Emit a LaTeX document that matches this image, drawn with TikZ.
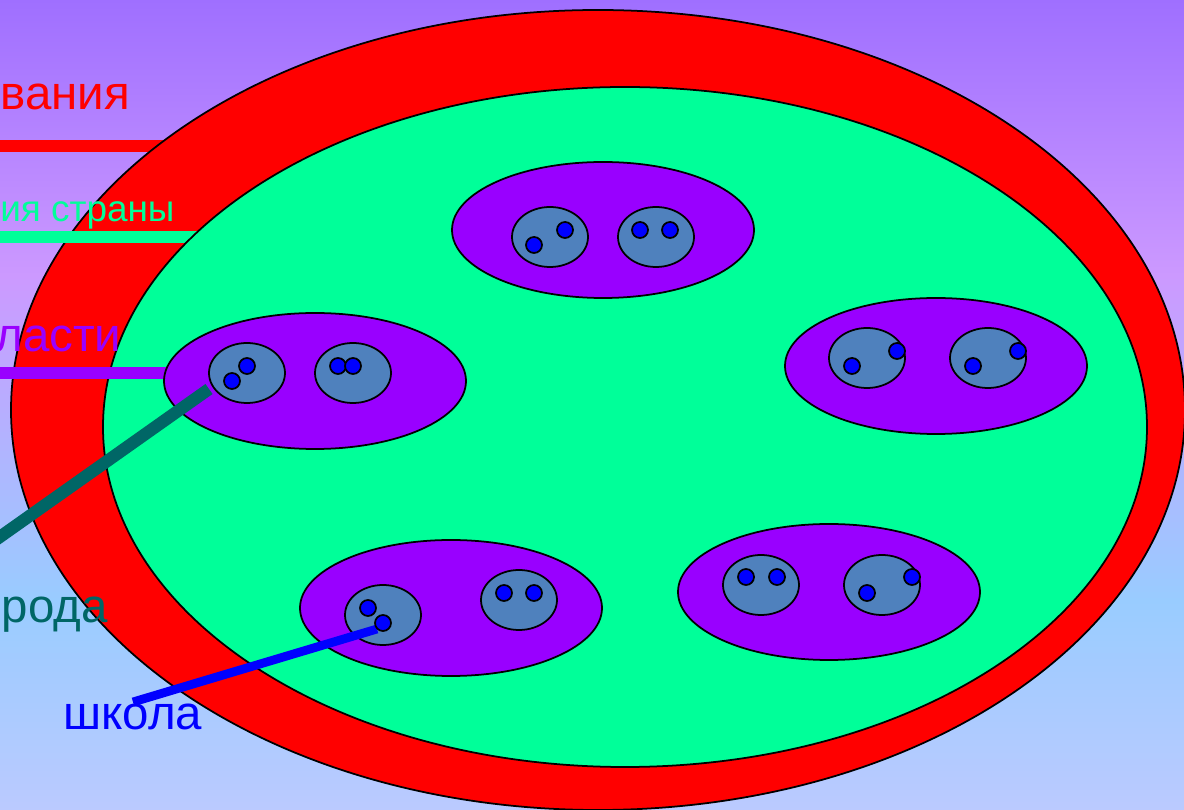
\documentclass[tikz,border=0pt]{standalone}
\usepackage{fontspec}
\setmainfont{Liberation Sans}
\definecolor{bgtop}{RGB}{159,111,255}
\definecolor{bgpink}{RGB}{204,153,255}
\definecolor{bgsky}{RGB}{153,204,255}
\definecolor{bglow}{RGB}{187,202,255}
\definecolor{ringred}{RGB}{255,0,0}
\definecolor{landgreen}{RGB}{0,255,153}
\definecolor{oblviolet}{RGB}{153,0,255}
\definecolor{townblue}{RGB}{79,129,189}
\definecolor{dotblue}{RGB}{0,0,255}
\definecolor{townteal}{RGB}{0,102,102}
\tikzset{
  outline/.style={draw=black,line width=1pt},
  oblast/.style={outline,fill=oblviolet},
  gorod/.style={outline,fill=townblue},
  shkola/.style={outline,fill=dotblue},
  lblline/.style={line width=6.5pt},
  lbl/.style={inner sep=0pt,anchor=base west,font=\fontsize{27}{32}\selectfont}
}
\begin{document}
\begin{tikzpicture}[x=0.02cm,y=-0.02cm]
\useasboundingbox (0,0) rectangle (1184,810);
\clip (0,0) rectangle (1184,810);
% background
\shade[top color=bgtop,bottom color=bgpink] (0,-1) rectangle (1184,276);
\shade[top color=bgpink,bottom color=bgsky] (0,275) rectangle (1184,601);
\shade[top color=bgsky,bottom color=bglow] (0,600) rectangle (1184,811);

% system of education
\coordinate (sysL) at (-10,146);
\coordinate (sysR) at (200,146);
\draw[lblline,draw=ringred] (sysL) -- (sysR);
\draw[outline,fill=ringred] (598,410) ellipse [x radius=587, y radius=400];

% country
\coordinate (landL) at (-10,237);
\coordinate (landR) at (230,237);
\draw[lblline,draw=landgreen] (landL) -- (landR);
\draw[outline,fill=landgreen] (625,427) ellipse [x radius=522, y radius=340];

% regions
\coordinate (oblL) at (-10,373);
\coordinate (oblR) at (200,373);
\draw[lblline,draw=oblviolet] (oblL) -- (oblR);
\draw[oblast] (603,230) ellipse [x radius=151, y radius=68];
\draw[oblast] (315,381) ellipse [x radius=151, y radius=68];
\draw[oblast] (936,366) ellipse [x radius=151, y radius=68];
\draw[oblast] (451,608) ellipse [x radius=151, y radius=68];
\draw[oblast] (829,592) ellipse [x radius=151, y radius=68];

% towns
\coordinate (gorL) at (-20,551);
\coordinate (gorR) at (209,389);
\draw[line width=7pt,draw=townteal] (gorL) -- (gorR);
\draw[gorod] (550,237) ellipse [x radius=38, y radius=30];
\draw[gorod] (656,237) ellipse [x radius=38, y radius=30];
\draw[gorod] (247,373) ellipse [x radius=38, y radius=30];
\draw[gorod] (353,373) ellipse [x radius=38, y radius=30];
\draw[gorod] (867,358) ellipse [x radius=38, y radius=30];
\draw[gorod] (988,358) ellipse [x radius=38, y radius=30];
\draw[gorod] (383,615) ellipse [x radius=38, y radius=30];
\draw[gorod] (519,600) ellipse [x radius=38, y radius=30];
\draw[gorod] (761,585) ellipse [x radius=38, y radius=30];
\draw[gorod] (882,585) ellipse [x radius=38, y radius=30];

% schools
\coordinate (shkL) at (133,702);
\coordinate (shkR) at (377,629);
\draw[line width=5pt,draw=dotblue] (shkL) -- (shkR);
\draw[shkola] (534,245) circle [radius=8];
\draw[shkola] (565,230) circle [radius=8];
\draw[shkola] (640,230) circle [radius=8];
\draw[shkola] (670,230) circle [radius=8];
\draw[shkola] (232,381) circle [radius=8];
\draw[shkola] (247,366) circle [radius=8];
\draw[shkola] (338,366) circle [radius=8];
\draw[shkola] (353,366) circle [radius=8];
\draw[shkola] (852,366) circle [radius=8];
\draw[shkola] (897,351) circle [radius=8];
\draw[shkola] (973,366) circle [radius=8];
\draw[shkola] (1018,351) circle [radius=8];
\draw[shkola] (368,608) circle [radius=8];
\draw[shkola] (383,623) circle [radius=8];
\draw[shkola] (504,593) circle [radius=8];
\draw[shkola] (534,593) circle [radius=8];
\draw[shkola] (746,577) circle [radius=8];
\draw[shkola] (777,577) circle [radius=8];
\draw[shkola] (867,593) circle [radius=8];
\draw[shkola] (912,577) circle [radius=8];

% labels
\node[lbl,text=ringred] (sysT) at (0,110) {вания};
\node[lbl,text=landgreen,font=\fontsize{21}{25}\selectfont] (landT) at (0,222) {ия страны};
\node[lbl,text=oblviolet] (oblT) at (-5,352) {ласти};
\node[lbl,text=townteal] (gorT) at (-25,623) {орода};
\node[lbl,text=dotblue] (shkT) at (63,730) {школа};

\end{tikzpicture}
\end{document}
